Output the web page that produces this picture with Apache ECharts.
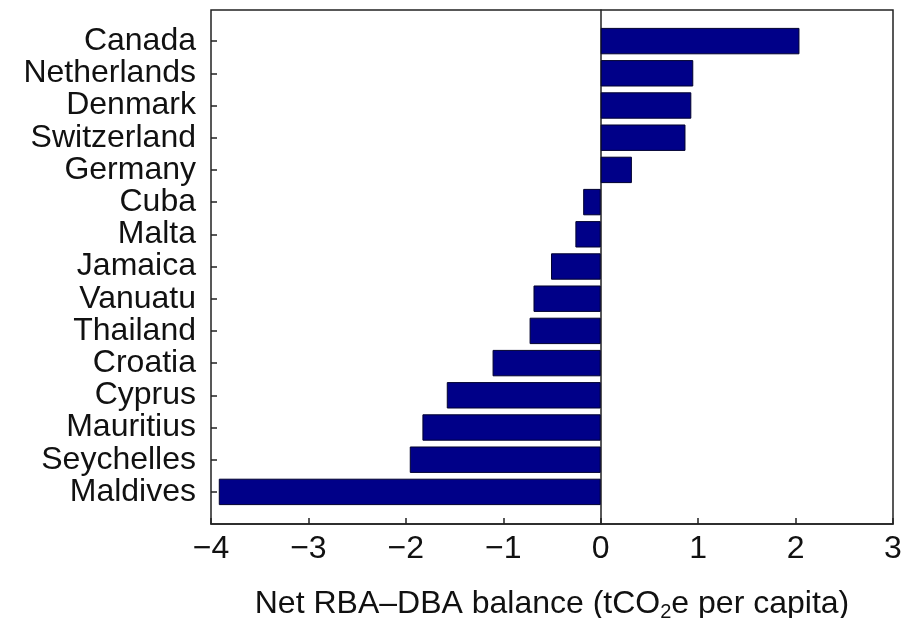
<!DOCTYPE html>
<html>
<head>
<meta charset="utf-8">
<script src="https://cdn.jsdelivr.net/npm/echarts@6/dist/echarts.min.js"></script>
<style>html,body{margin:0;padding:0;background:#fff;}#c{width:902px;height:618px;}</style>
</head>
<body>
<div id="c"></div>
<script>
const countries = ['Canada','Netherlands','Denmark','Switzerland','Germany','Cuba','Malta','Jamaica','Vanuatu','Thailand','Croatia','Cyprus','Mauritius','Seychelles','Maldives'];
const values = [2.04, 0.95, 0.93, 0.87, 0.32, -0.18, -0.26, -0.51, -0.69, -0.73, -1.11, -1.58, -1.83, -1.96, -3.92];
const xTicks = [-4, -3, -2, -1, 0, 1, 2, 3];
const xName = 'Net RBA\u2013DBA balance (tCO{sub|2}e per capita)';

const font = '"Liberation Sans", Arial, Helvetica, sans-serif';
const chart = echarts.init(document.getElementById('c'), null, {renderer: 'canvas'});
chart.setOption({
  backgroundColor: '#ffffff',
  animation: false,
  textStyle: {fontFamily: font},
  grid: [
    {left: 211, right: 9, top: 10, bottom: 94, show: true, borderColor: '#222', borderWidth: 1.5, outerBoundsMode: 'none', containLabel: false},
    {left: 211, right: 9, top: 25, bottom: 110, outerBoundsMode: 'none', containLabel: false}
  ],
  xAxis: [
    {
      gridIndex: 0, type: 'value', min: xTicks[0], max: xTicks[xTicks.length - 1], interval: 1,
      axisLine: {show: true, onZero: false, lineStyle: {color: '#222', width: 1.5}},
      axisTick: {show: true, inside: true, length: 6, lineStyle: {color: '#222', width: 1.5}},
      splitLine: {show: false},
      axisLabel: {fontSize: 32, color: '#111', margin: 9, fontFamily: font,
        formatter: v => String(v).replace('-', '\u2212')},
      name: xName, nameLocation: 'middle', nameGap: 63,
      nameTextStyle: {fontSize: 32, color: '#111', fontFamily: font,
        rich: {sub: {fontSize: 20, color: '#111', fontFamily: font, verticalAlign: 'bottom', padding: [15, 0, 0, 0]}}}
    },
    {gridIndex: 1, type: 'value', min: xTicks[0], max: xTicks[xTicks.length - 1], show: false}
  ],
  yAxis: [
    {
      gridIndex: 0, type: 'value', min: 0, max: 1,
      axisLine: {show: true, onZero: true, lineStyle: {color: '#222', width: 1.5}},
      axisTick: {show: false}, axisLabel: {show: false}, splitLine: {show: false}
    },
    {
      gridIndex: 1, type: 'category', data: countries, inverse: true,
      axisLine: {show: false, onZero: false},
      axisTick: {show: true, inside: true, alignWithLabel: true, interval: 0, length: 6, lineStyle: {color: '#222', width: 1.5}},
      axisLabel: {fontSize: 32, color: '#111', margin: 15, interval: 0, fontFamily: font},
      splitLine: {show: false}
    }
  ],
  series: [{
    type: 'bar', xAxisIndex: 1, yAxisIndex: 1, data: values, barWidth: '82%',
    itemStyle: {color: '#000088', borderColor: '#00002e', borderWidth: 1}
  }]
});
</script>
</body>
</html>
